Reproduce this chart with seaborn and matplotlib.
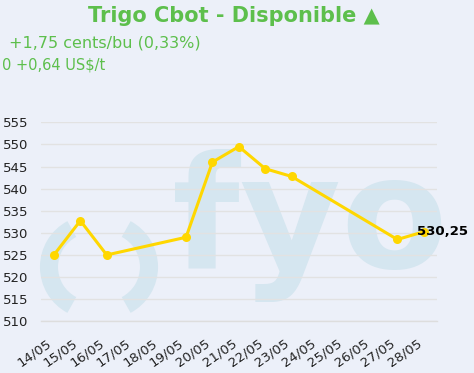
import matplotlib
matplotlib.use("Agg")
import matplotlib.pyplot as plt
import seaborn as sns
import pandas as pd
import numpy as np
from matplotlib.patches import Arc
from matplotlib.transforms import IdentityTransform, ScaledTranslation

# ---- data ----
dates = ["14/05", "15/05", "16/05", "17/05", "18/05", "19/05", "20/05", "21/05",
         "22/05", "23/05", "24/05", "25/05", "26/05", "27/05", "28/05"]
point_dates = ["14/05", "15/05", "16/05", "19/05", "20/05", "21/05", "22/05",
               "23/05", "27/05", "28/05"]
prices = [525, 532.75, 525, 529, 546, 549.5, 544.5, 542.75, 528.5, 530.25]
yticks = [510, 515, 520, 525, 530, 535, 540, 545, 550, 555]
last_label = "530,25"
title = "Trigo Cbot - Disponible \u25B2"
subtitle = "+1,75 cents/bu (0,33%)"
subtitle2 = "0 +0,64 US$/t"

BG = "#ECF0F9"
GOLD = "#FFD700"
GREEN = "#5DBF4C"
WM = "#D5E6F0"
W, H = 474, 373

df = pd.DataFrame({"pos": [dates.index(d) for d in point_dates], "price": prices})

sns.set_style("white")
plt.rcParams["font.family"] = ["DejaVu Sans"]

fig = plt.figure(figsize=(W / 100, H / 100), dpi=100, facecolor=BG)
ax = fig.add_axes([40.7 / W, 1 - 321.3 / H, (437 - 40.7) / W, (321.3 - 122.3) / H])
ax.set_facecolor("none")

# watermark
fig.text(172 / W, 1 - 268 / H, "fyo", fontsize=112, fontweight="bold",
         color=WM, ha="left", va="baseline", zorder=-2)
for cx, t1, t2 in [(92, 118, 242), (106, -62, 62)]:
    arc = Arc((cx, H - 267), 86, 86, theta1=t1, theta2=t2, color=WM,
              lw=13, transform=IdentityTransform(), zorder=-2)
    fig.add_artist(arc)

sns.lineplot(data=df, x="pos", y="price", ax=ax, color=GOLD, lw=2.2,
             marker="o", markersize=6.5, markeredgewidth=0, zorder=3)

ax.set_xlim(-0.5, 14.5)
ax.set_ylim(510, 555)
ax.set_xticks(range(len(dates)))
ax.set_xticklabels(dates, rotation=35, ha="right")
shift = ScaledTranslation(4 / 100, 0, fig.dpi_scale_trans)
for lab in ax.get_xticklabels():
    lab.set_transform(lab.get_transform() + shift)
ax.set_xticks(np.arange(-0.5, len(dates), 1), minor=True)
ax.tick_params(axis="x", which="major", length=0, pad=11, labelsize=9.5,
               labelcolor="#222222")
ax.tick_params(axis="x", which="minor", length=4, width=1, color="#DDDDDD")
ax.set_yticks(yticks)
ax.tick_params(axis="y", length=0, pad=9, labelsize=9.5, labelcolor="#222222")
ax.set_xlabel("")
ax.set_ylabel("")

for s in ["top", "right", "left"]:
    ax.spines[s].set_visible(False)
ax.spines["bottom"].set_color("#DDDDDD")
ax.spines["bottom"].set_linewidth(1)
ax.yaxis.grid(True, color="#E2E2E2", lw=1)
ax.xaxis.grid(False)
ax.set_axisbelow(True)

ax.annotate(last_label, xy=(df["pos"].iloc[-1], prices[-1]), xytext=(-7, 0),
            textcoords="offset pixels", ha="left", va="center",
            fontsize=9.5, fontweight="bold", color="black", zorder=5)

fig.text(234 / W, 1 - 16 / H, title, ha="center", va="center", fontsize=15,
         fontweight="bold", color=GREEN)
fig.text(9 / W, 1 - 42.5 / H, subtitle, ha="left", va="center", fontsize=11.5,
         color=GREEN)
fig.text(2 / W, 1 - 65.5 / H, subtitle2, ha="left", va="center", fontsize=10.5,
         color=GREEN)

fig.savefig("out.png", dpi=100, facecolor=BG)
